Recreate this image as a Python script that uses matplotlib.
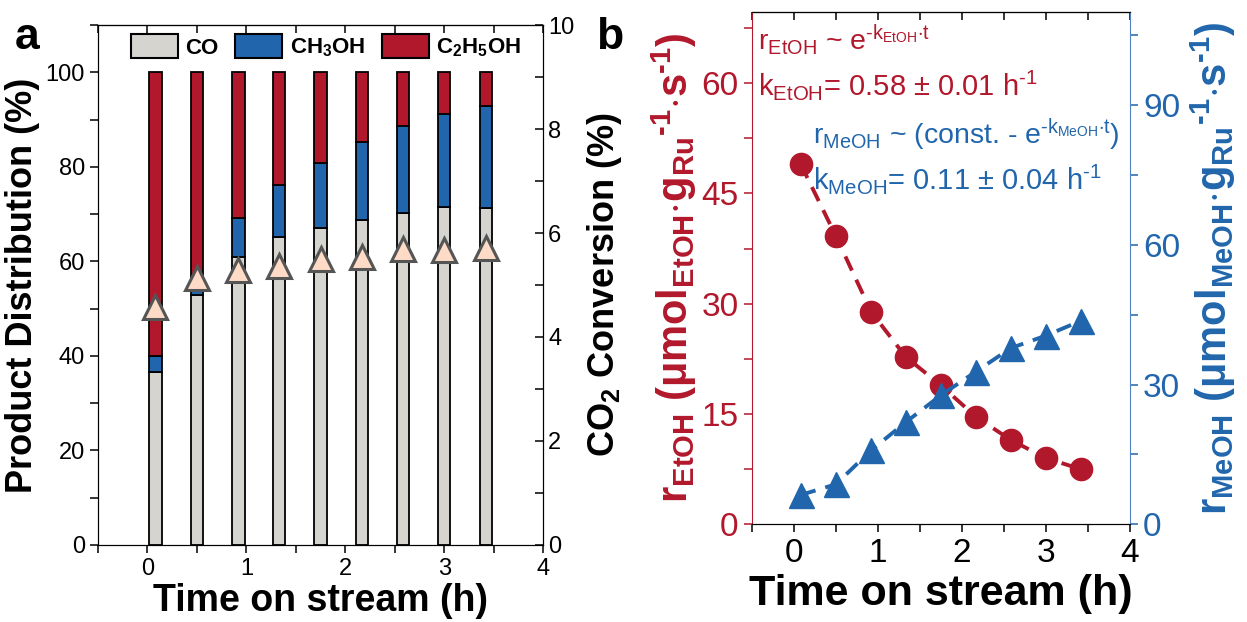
import matplotlib
matplotlib.use('Agg')
from matplotlib import pyplot as plt
from matplotlib.ticker import MultipleLocator
import numpy as np

plt.rcParams['font.family'] = ['Liberation Sans', 'DejaVu Sans']
plt.rcParams['mathtext.fontset'] = 'custom'
plt.rcParams['mathtext.rm'] = 'Liberation Sans'
plt.rcParams['mathtext.it'] = 'Liberation Sans'
plt.rcParams['mathtext.bf'] = 'Liberation Sans:bold'

RED = '#B2182B'
BLUE = '#2166AC'
GREY = '#D5D4CF'
PEACH = '#FDDBC7'
HY = '\u2010'  # short hyphen for the exponents

# time on stream (h)
time_h = [0.08, 0.50, 0.92, 1.33, 1.75, 2.17, 2.58, 3.00, 3.42]

# product distribution (%)
co_pct = [36.5, 52.8, 61.0, 65.1, 67.0, 68.8, 70.3, 71.6, 71.3]
meoh_pct = [3.4, 2.2, 8.2, 11.1, 13.8, 16.5, 18.4, 19.6, 21.5]
etoh_pct = [60.1, 45.0, 30.8, 23.8, 19.2, 14.7, 11.3, 8.8, 7.2]

# CO2 conversion (%)
conversion = [4.58, 5.13, 5.29, 5.37, 5.50, 5.54, 5.69, 5.68, 5.72]

# formation rates (umol g_Ru^-1 s^-1)
r_etoh = [49.0, 39.2, 28.9, 22.8, 18.9, 14.6, 11.5, 9.0, 7.5]
r_meoh = [6.3, 8.6, 15.9, 21.9, 27.7, 32.8, 37.8, 40.5, 43.7]

fig = plt.figure(figsize=(12.47, 6.22), dpi=100)

# ---------------- panel a ----------------
ax = fig.add_axes([0.0786, 0.1238, 0.357, 0.836])
t = np.array(time_h)
w = 0.125
co = np.array(co_pct)
me = np.array(meoh_pct)
et = np.array(etoh_pct)
ax.bar(t, co, w, color=GREY, edgecolor='black', linewidth=1.3, label='CO', zorder=2)
ax.bar(t, me, w, bottom=co, color=BLUE, edgecolor='black', linewidth=1.3,
       label=r'$\mathbf{CH_3OH}$', zorder=2)
ax.bar(t, et, w, bottom=co + me, color=RED, edgecolor='black', linewidth=1.3,
       label=r'$\mathbf{C_2H_5OH}$', zorder=2)
ax.set_xlim(-0.5, 4)
ax.set_ylim(0, 110)
ax.xaxis.set_major_locator(MultipleLocator(1))
ax.xaxis.set_minor_locator(MultipleLocator(0.5))
ax.yaxis.set_major_locator(MultipleLocator(20))
ax.yaxis.set_minor_locator(MultipleLocator(10))
ax.tick_params(axis='both', which='both', direction='out', labelsize=17, width=1.1)
ax.tick_params(which='major', length=6)
ax.tick_params(which='minor', length=6)
ax.set_xlabel('Time on stream (h)', fontsize=27, fontweight='bold', labelpad=2)
ax.set_ylabel('Product Distribution (%)', fontsize=26, fontweight='bold', labelpad=4)

leg = ax.legend(loc='upper left', bbox_to_anchor=(0.074, 0.982), ncol=3, frameon=False,
                prop={'weight': 'bold', 'size': 16}, borderpad=0, borderaxespad=0,
                handlelength=2.1, handleheight=1.25, columnspacing=0.75, handletextpad=0.35)
for p in leg.get_patches():
    p.set_linewidth(1.5)

# top ticks (inward) via secondary axis
top = ax.secondary_xaxis('top')
top.xaxis.set_major_locator(MultipleLocator(1))
top.xaxis.set_minor_locator(MultipleLocator(0.5))
top.tick_params(which='both', direction='in', length=6, labeltop=False, width=1.1)

ax2 = ax.twinx()
ax2.plot(t, conversion, linestyle='none', marker='^', markersize=17,
         markerfacecolor=PEACH, markeredgecolor='#555555', markeredgewidth=2.2, zorder=3)
ax2.set_ylim(0, 10)
ax2.yaxis.set_major_locator(MultipleLocator(2))
ax2.yaxis.set_minor_locator(MultipleLocator(1))
ax2.tick_params(axis='y', which='both', direction='in', length=6, labelsize=17, width=1.1)
ax2.set_ylabel(r'CO$_\mathbf{2}$ Conversion (%)', fontsize=26, fontweight='bold', labelpad=8)

fig.text(0.012, 0.94, 'a', fontsize=32, fontweight='bold', va='center')

# ---------------- panel b ----------------
bx = fig.add_axes([0.603, 0.157, 0.303, 0.824])
bx.plot(t, r_etoh, linestyle=(0, (4, 2.6)), color=RED, linewidth=2.8,
        marker='o', markersize=16, markerfacecolor=RED, markeredgecolor=RED, zorder=3)
bx.set_xlim(-0.5, 4)
bx.set_ylim(0, 69.7)
bx.xaxis.set_major_locator(MultipleLocator(1))
bx.xaxis.set_minor_locator(MultipleLocator(0.5))
bx.yaxis.set_major_locator(MultipleLocator(15))
bx.yaxis.set_minor_locator(MultipleLocator(7.5))
bx.tick_params(axis='both', which='both', direction='out', length=6, width=1.1, labelsize=24)
bx.tick_params(axis='y', which='both', colors=RED)
bx.spines['left'].set_color(RED)
bx.spines['right'].set_visible(False)
bx.set_xlabel('Time on stream (h)', fontsize=31, fontweight='bold', labelpad=4)
bx.set_ylabel(r'$\mathbf{r_{EtOH}\ (\mu mol_{EtOH}{\cdot}g_{Ru}{}^{' + HY + r'1}{\cdot}s^{' + HY + r'1})}$',
              fontsize=30, color=RED, labelpad=2)

btop = bx.secondary_xaxis('top')
btop.xaxis.set_major_locator(MultipleLocator(1))
btop.xaxis.set_minor_locator(MultipleLocator(0.5))
btop.tick_params(which='both', direction='in', length=6, labeltop=False, width=1.1)

bx2 = bx.twinx()
bx2.plot(t, r_meoh, linestyle=(0, (4, 2.6)), color=BLUE, linewidth=2.8,
         marker='^', markersize=18, markerfacecolor=BLUE, markeredgecolor=BLUE, zorder=3)
bx2.set_ylim(0, 110)
bx2.yaxis.set_major_locator(MultipleLocator(30))
bx2.yaxis.set_minor_locator(MultipleLocator(15))
bx2.tick_params(axis='y', which='both', direction='out', length=6, width=1.1,
                labelsize=24, colors=BLUE)
bx2.spines['right'].set_color('#4F83C4')
bx2.spines['left'].set_visible(False)
bx2.set_ylabel(r'$\mathbf{r_{MeOH}\ (\mu mol_{MeOH}{\cdot}g_{Ru}{}^{' + HY + r'1}{\cdot}s^{' + HY + r'1})}$',
               fontsize=30, color=BLUE, labelpad=6)

bx.text(-0.43, 65.9, r'r$_{EtOH}$ ~ e$^{' + HY + r'k_{EtOH}{\cdot}t}$', color=RED, fontsize=20.5, va='center')
bx.text(-0.43, 59.8, r'k$_{EtOH}$= 0.58 ± 0.01 h$^{' + HY + '1}$', color=RED, fontsize=21, va='center')
bx.text(0.23, 53.0, r'r$_{MeOH}$ ~ (const. - e$^{' + HY + r'k_{MeOH}{\cdot}t}$)', color=BLUE, fontsize=20.5, va='center')
bx.text(0.23, 46.9, r'k$_{MeOH}$= 0.11 ± 0.04 h$^{' + HY + '1}$', color=BLUE, fontsize=21, va='center')

fig.text(0.478, 0.94, 'b', fontsize=32, fontweight='bold', va='center')

fig.savefig('out.png', dpi=100)
